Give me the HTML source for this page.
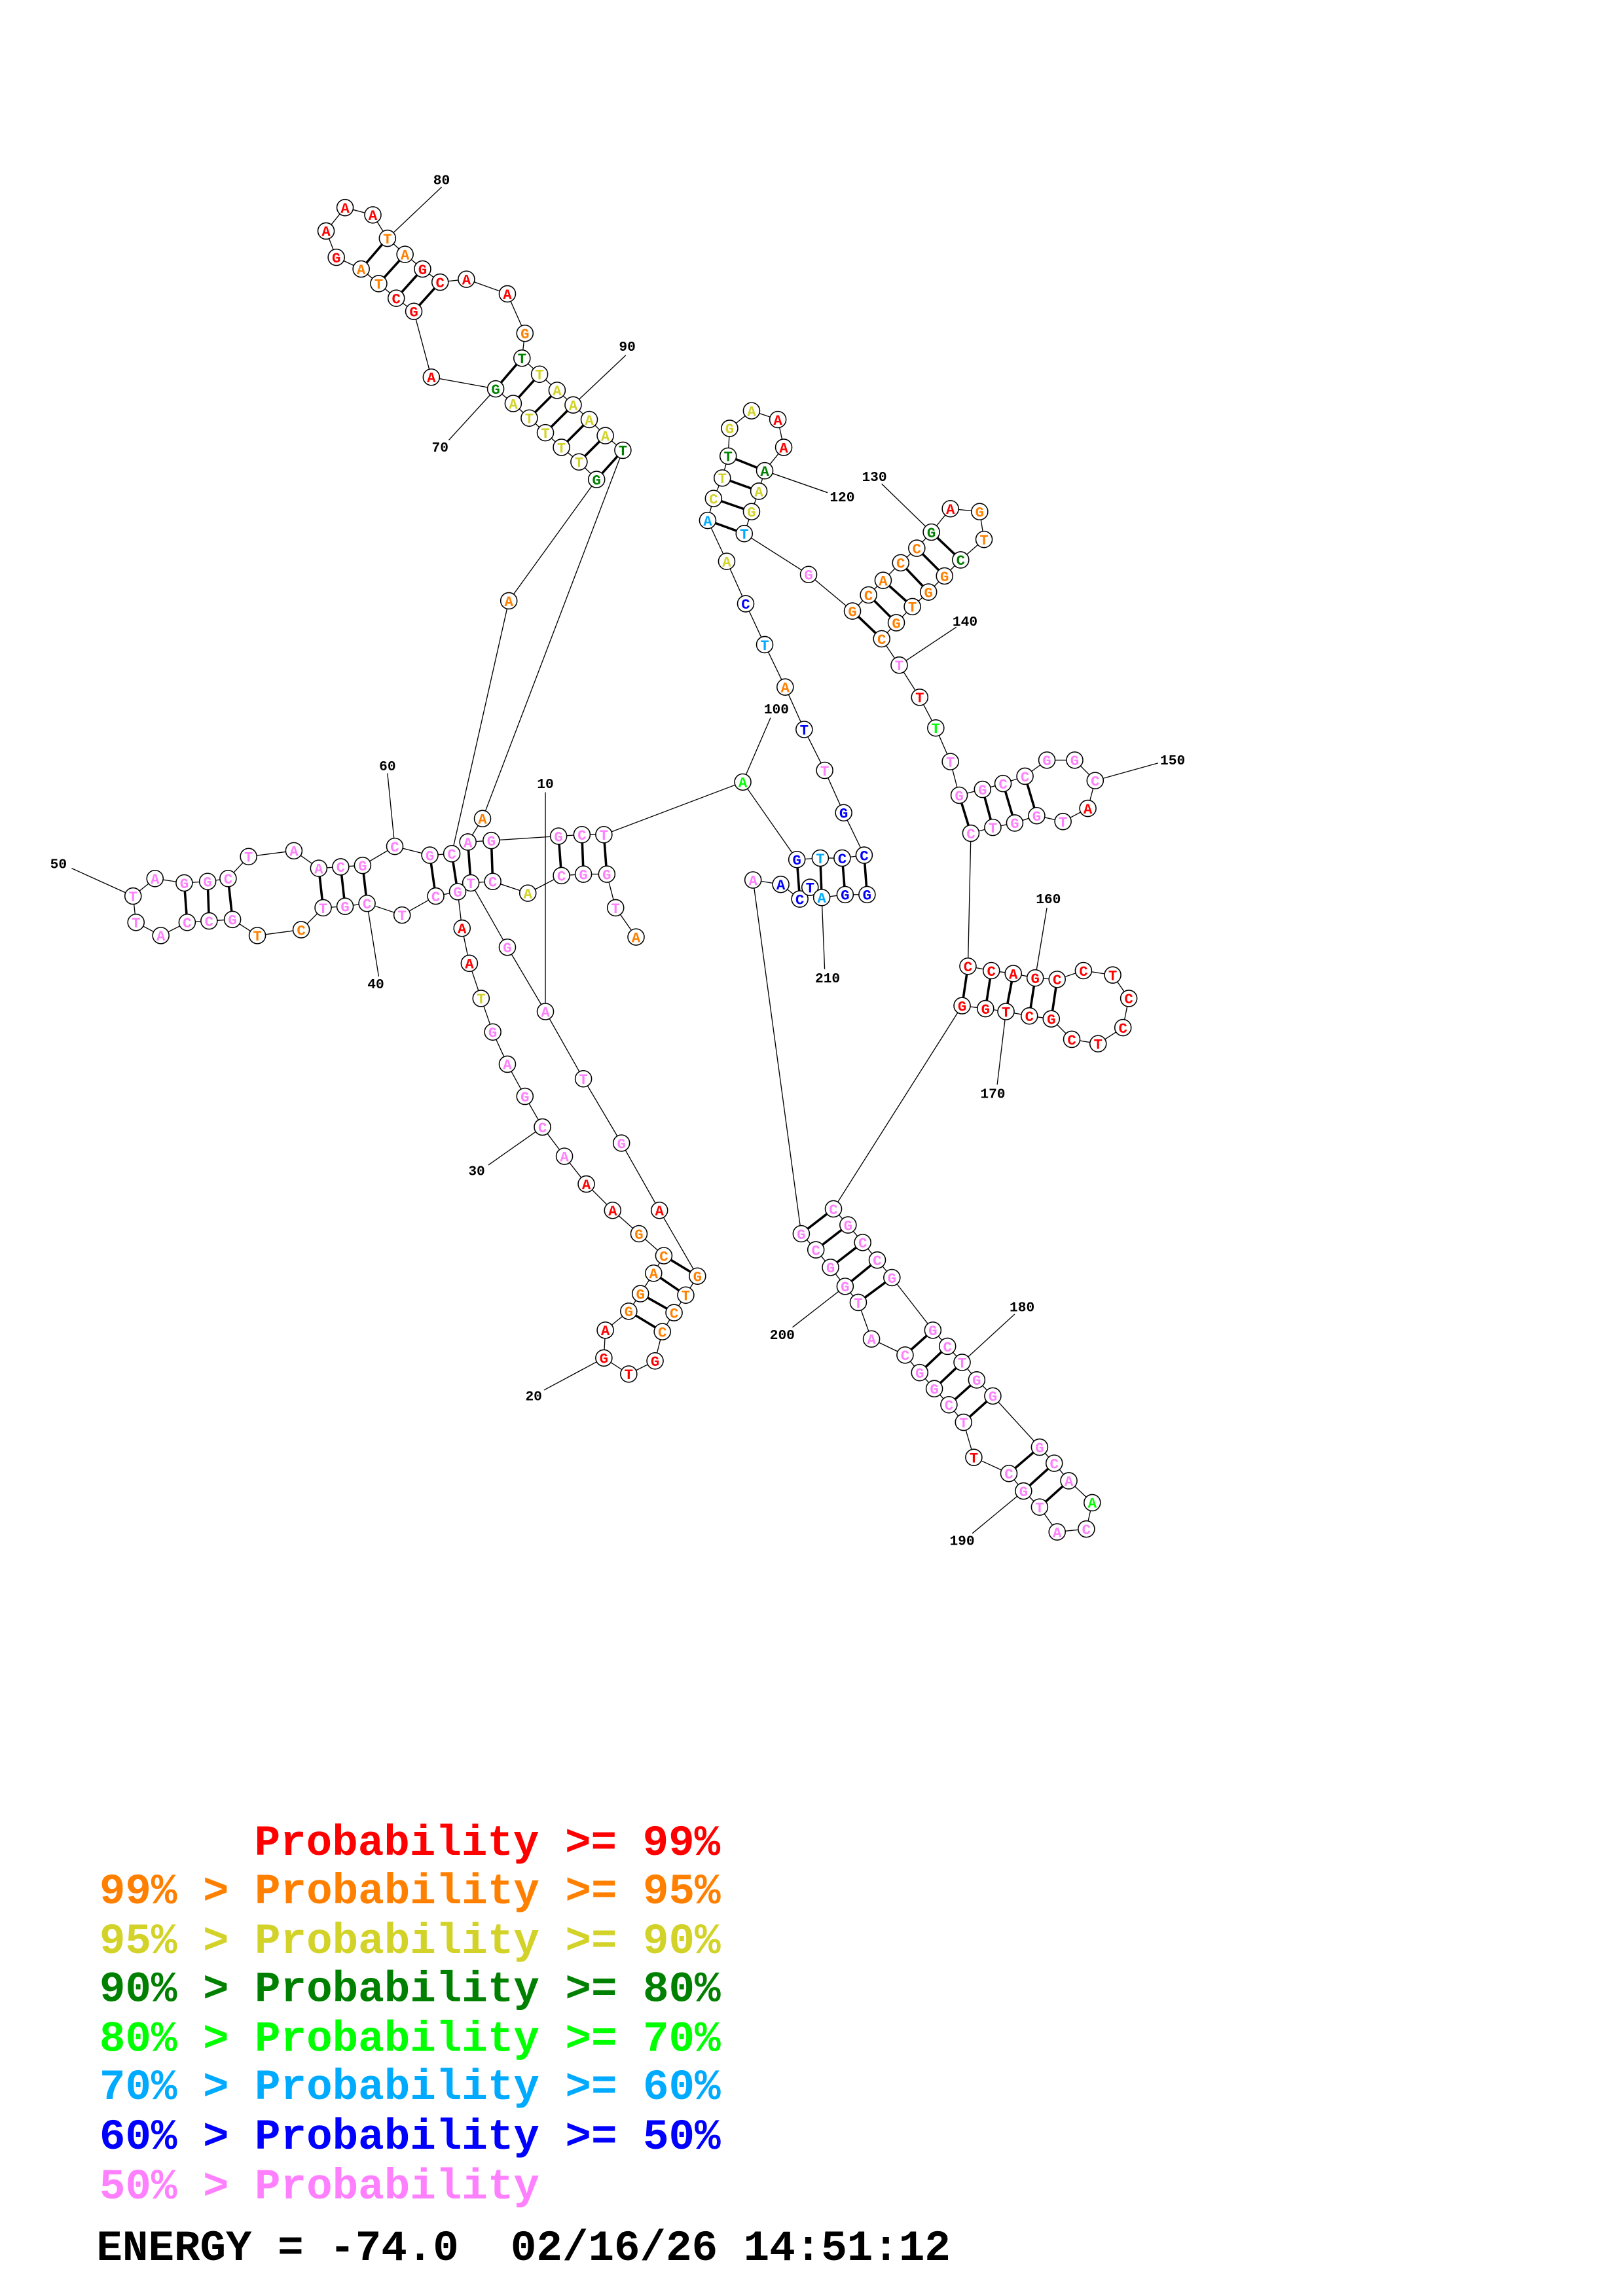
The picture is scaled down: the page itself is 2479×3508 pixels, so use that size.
<!DOCTYPE html>
<html><head><meta charset="utf-8"><style>
html,body{margin:0;padding:0;background:#fff}
svg{display:block}
.bb{fill:none;stroke:#000;stroke-width:.6}
.pr line{stroke:#000;stroke-width:1.6}
.lb line{stroke:#000;stroke-width:.6}
.cc circle{fill:#fff;stroke:#000;stroke-width:.7}
.t text{font-family:"Liberation Mono",monospace;font-weight:bold;font-size:10px;text-anchor:middle}
.num{font-family:"Liberation Mono",monospace;font-weight:bold;font-size:9.5px;text-anchor:middle;fill:#000}
.r{fill:#ff0000}.o{fill:#ff8000}.y{fill:#d2d228}.d{fill:#008000}.g{fill:#00ff00}.l{fill:#00aaff}.b{fill:#0000ff}.p{fill:#ff80ff}
.leg{font-family:"Liberation Mono",monospace;font-weight:bold;font-size:29.5px;white-space:pre}
</style></head><body>
<svg width="2479" height="3508" viewBox="0 0 1110 1570.7" xmlns="http://www.w3.org/2000/svg">
<rect width="1110" height="1571" fill="#fff"/>
<polyline class="bb" points="435,641 421,621 415,598 399,598 384,599 361,611 337,603 322,604 347,648 373,692 399,738 425,782 451,828 477,873 469,886 461,898 453,911 448,931 430,940 413,929 414,910 430,897 438,885 447,871 454,859 437,844 419,828 401,810 386,791 371,771 359,750 347,728 337,706 329,683 321,659 316,635 313,610 298,613 275,626 251,618 236,620 221,621 206,636 176,640 159,629 143,630 128,631 110,640 93,631 91,613 106,601 126,604 142,603 156,601 170,586 201,582 218,594 233,593 248,592 270,579 294,585 309,584 348,411 408,328 396,316 384,306 373,296 362,286 351,276 339,266 295,258 283,213 271,204 259,194 247,184 230,176 223,158 236,142 255,147 265,163 277,174 289,184 301,193 319,191 347,201 359,228 357,245 369,256 381,267 392,277 403,287 414,298 426,308 330,560 320,576 336,575 382,572 398,571 413,571 508,535 545,588 561,587 576,587 591,585 577,556 564,527 550,499 537,470 523,441 510,413 497,384 484,356 488,341 494,327 498,312 499,293 514,281 532,287 536,306 523,322 519,336 514,350 509,365 553,393 583,418 594,407 604,397 616,385 627,375 637,364 650,348 670,350 673,369 657,383 646,394 635,405 624,415 613,426 603,437 615,455 629,477 640,498 650,521 656,544 672,540 686,536 701,531 716,520 735,520 749,534 744,553 727,562 709,558 694,563 679,566 664,570 662,661 678,664 693,666 708,669 723,670 741,664 761,667 772,683 768,703 751,714 733,711 719,697 704,695 688,692 674,690 658,688 570,827 580,838 590,850 600,862 610,874 638,910 648,921 658,932 668,944 679,955 711,990 721,1001 731,1013 747,1028 743,1046 723,1048 711,1031 700,1020 690,1008 666,997 659,973 649,961 639,950 629,939 619,927 596,916 587,891 578,880 568,867 558,855 548,844 515,602 534,605 547,615 554,607 562,614 578,612 593,612"/>
<g class="lb">
<line x1="302" y1="128" x2="265" y2="163"/><line x1="428" y1="243" x2="392" y2="277"/><line x1="307" y1="301" x2="339" y2="266"/>
<line x1="265" y1="529" x2="270" y2="579"/><line x1="259" y1="668" x2="251" y2="618"/><line x1="49" y1="594" x2="91" y2="613"/>
<line x1="373" y1="542" x2="373" y2="692"/><line x1="334" y1="797" x2="371" y2="771"/><line x1="372" y1="951" x2="413" y2="929"/>
<line x1="566" y1="337" x2="523" y2="322"/><line x1="603" y1="331" x2="637" y2="364"/><line x1="654" y1="429" x2="615" y2="455"/>
<line x1="527" y1="491" x2="508" y2="535"/><line x1="564" y1="663" x2="562" y2="614"/><line x1="792" y1="522" x2="749" y2="534"/>
<line x1="716" y1="621" x2="708" y2="669"/><line x1="682" y1="742" x2="688" y2="692"/><line x1="694" y1="899" x2="658" y2="932"/>
<line x1="665" y1="1049" x2="700" y2="1020"/><line x1="542" y1="908" x2="578" y2="880"/>
</g>
<g class="pr">
<line x1="247" y1="184" x2="265" y2="163"/><line x1="259" y1="194" x2="277" y2="174"/><line x1="271" y1="204" x2="289" y2="184"/><line x1="283" y1="213" x2="301" y2="193"/>
<line x1="339" y1="266" x2="357" y2="245"/><line x1="351" y1="276" x2="369" y2="256"/><line x1="362" y1="286" x2="381" y2="267"/><line x1="373" y1="296" x2="392" y2="277"/><line x1="384" y1="306" x2="403" y2="287"/><line x1="396" y1="316" x2="414" y2="298"/><line x1="408" y1="328" x2="426" y2="308"/>
<line x1="320" y1="576" x2="322" y2="604"/><line x1="336" y1="575" x2="337" y2="603"/><line x1="382" y1="572" x2="384" y2="599"/><line x1="398" y1="571" x2="399" y2="598"/><line x1="413" y1="571" x2="415" y2="598"/>
<line x1="309" y1="584" x2="313" y2="610"/><line x1="294" y1="585" x2="298" y2="613"/>
<line x1="248" y1="592" x2="251" y2="618"/><line x1="233" y1="593" x2="236" y2="620"/><line x1="218" y1="594" x2="221" y2="621"/>
<line x1="156" y1="601" x2="159" y2="629"/><line x1="142" y1="603" x2="143" y2="630"/><line x1="126" y1="604" x2="128" y2="631"/>
<line x1="454" y1="859" x2="477" y2="873"/><line x1="447" y1="871" x2="469" y2="886"/><line x1="438" y1="885" x2="461" y2="898"/><line x1="430" y1="897" x2="453" y2="911"/>
<line x1="498" y1="312" x2="523" y2="322"/><line x1="494" y1="327" x2="519" y2="336"/><line x1="488" y1="341" x2="514" y2="350"/><line x1="484" y1="356" x2="509" y2="365"/>
<line x1="583" y1="418" x2="603" y2="437"/><line x1="594" y1="407" x2="613" y2="426"/><line x1="604" y1="397" x2="624" y2="415"/><line x1="616" y1="385" x2="635" y2="405"/><line x1="627" y1="375" x2="646" y2="394"/><line x1="637" y1="364" x2="657" y2="383"/>
<line x1="545" y1="588" x2="547" y2="615"/><line x1="561" y1="587" x2="562" y2="614"/><line x1="576" y1="587" x2="578" y2="612"/><line x1="591" y1="585" x2="593" y2="612"/>
<line x1="656" y1="544" x2="664" y2="570"/><line x1="672" y1="540" x2="679" y2="566"/><line x1="686" y1="536" x2="694" y2="563"/><line x1="701" y1="531" x2="709" y2="558"/>
<line x1="662" y1="661" x2="658" y2="688"/><line x1="678" y1="664" x2="674" y2="690"/><line x1="693" y1="666" x2="688" y2="692"/><line x1="708" y1="669" x2="704" y2="695"/><line x1="723" y1="670" x2="719" y2="697"/>
<line x1="570" y1="827" x2="548" y2="844"/><line x1="580" y1="838" x2="558" y2="855"/><line x1="590" y1="850" x2="568" y2="867"/><line x1="600" y1="862" x2="578" y2="880"/><line x1="610" y1="874" x2="587" y2="891"/>
<line x1="638" y1="910" x2="619" y2="927"/><line x1="648" y1="921" x2="629" y2="939"/><line x1="658" y1="932" x2="639" y2="950"/><line x1="668" y1="944" x2="649" y2="961"/><line x1="679" y1="955" x2="659" y2="973"/>
<line x1="711" y1="990" x2="690" y2="1008"/><line x1="721" y1="1001" x2="700" y2="1020"/><line x1="731" y1="1013" x2="711" y2="1031"/>
</g>
<g class="cc">
<circle cx="435" cy="641" r="5.6"/><circle cx="421" cy="621" r="5.6"/><circle cx="415" cy="598" r="5.6"/><circle cx="399" cy="598" r="5.6"/><circle cx="384" cy="599" r="5.6"/><circle cx="361" cy="611" r="5.6"/><circle cx="337" cy="603" r="5.6"/><circle cx="322" cy="604" r="5.6"/><circle cx="347" cy="648" r="5.6"/><circle cx="373" cy="692" r="5.6"/><circle cx="399" cy="738" r="5.6"/><circle cx="425" cy="782" r="5.6"/><circle cx="451" cy="828" r="5.6"/><circle cx="477" cy="873" r="5.6"/><circle cx="469" cy="886" r="5.6"/><circle cx="461" cy="898" r="5.6"/><circle cx="453" cy="911" r="5.6"/><circle cx="448" cy="931" r="5.6"/><circle cx="430" cy="940" r="5.6"/><circle cx="413" cy="929" r="5.6"/><circle cx="414" cy="910" r="5.6"/><circle cx="430" cy="897" r="5.6"/><circle cx="438" cy="885" r="5.6"/><circle cx="447" cy="871" r="5.6"/><circle cx="454" cy="859" r="5.6"/><circle cx="437" cy="844" r="5.6"/><circle cx="419" cy="828" r="5.6"/><circle cx="401" cy="810" r="5.6"/><circle cx="386" cy="791" r="5.6"/><circle cx="371" cy="771" r="5.6"/><circle cx="359" cy="750" r="5.6"/><circle cx="347" cy="728" r="5.6"/><circle cx="337" cy="706" r="5.6"/><circle cx="329" cy="683" r="5.6"/><circle cx="321" cy="659" r="5.6"/><circle cx="316" cy="635" r="5.6"/><circle cx="313" cy="610" r="5.6"/><circle cx="298" cy="613" r="5.6"/><circle cx="275" cy="626" r="5.6"/><circle cx="251" cy="618" r="5.6"/><circle cx="236" cy="620" r="5.6"/><circle cx="221" cy="621" r="5.6"/><circle cx="206" cy="636" r="5.6"/><circle cx="176" cy="640" r="5.6"/><circle cx="159" cy="629" r="5.6"/><circle cx="143" cy="630" r="5.6"/><circle cx="128" cy="631" r="5.6"/><circle cx="110" cy="640" r="5.6"/><circle cx="93" cy="631" r="5.6"/><circle cx="91" cy="613" r="5.6"/><circle cx="106" cy="601" r="5.6"/><circle cx="126" cy="604" r="5.6"/><circle cx="142" cy="603" r="5.6"/><circle cx="156" cy="601" r="5.6"/><circle cx="170" cy="586" r="5.6"/><circle cx="201" cy="582" r="5.6"/><circle cx="218" cy="594" r="5.6"/><circle cx="233" cy="593" r="5.6"/><circle cx="248" cy="592" r="5.6"/><circle cx="270" cy="579" r="5.6"/><circle cx="294" cy="585" r="5.6"/><circle cx="309" cy="584" r="5.6"/><circle cx="348" cy="411" r="5.6"/><circle cx="408" cy="328" r="5.6"/><circle cx="396" cy="316" r="5.6"/><circle cx="384" cy="306" r="5.6"/><circle cx="373" cy="296" r="5.6"/><circle cx="362" cy="286" r="5.6"/><circle cx="351" cy="276" r="5.6"/><circle cx="339" cy="266" r="5.6"/><circle cx="295" cy="258" r="5.6"/><circle cx="283" cy="213" r="5.6"/><circle cx="271" cy="204" r="5.6"/><circle cx="259" cy="194" r="5.6"/><circle cx="247" cy="184" r="5.6"/><circle cx="230" cy="176" r="5.6"/><circle cx="223" cy="158" r="5.6"/><circle cx="236" cy="142" r="5.6"/><circle cx="255" cy="147" r="5.6"/><circle cx="265" cy="163" r="5.6"/><circle cx="277" cy="174" r="5.6"/><circle cx="289" cy="184" r="5.6"/><circle cx="301" cy="193" r="5.6"/><circle cx="319" cy="191" r="5.6"/><circle cx="347" cy="201" r="5.6"/><circle cx="359" cy="228" r="5.6"/><circle cx="357" cy="245" r="5.6"/><circle cx="369" cy="256" r="5.6"/><circle cx="381" cy="267" r="5.6"/><circle cx="392" cy="277" r="5.6"/><circle cx="403" cy="287" r="5.6"/><circle cx="414" cy="298" r="5.6"/><circle cx="426" cy="308" r="5.6"/><circle cx="330" cy="560" r="5.6"/><circle cx="320" cy="576" r="5.6"/><circle cx="336" cy="575" r="5.6"/><circle cx="382" cy="572" r="5.6"/><circle cx="398" cy="571" r="5.6"/><circle cx="413" cy="571" r="5.6"/><circle cx="508" cy="535" r="5.6"/><circle cx="545" cy="588" r="5.6"/><circle cx="561" cy="587" r="5.6"/><circle cx="576" cy="587" r="5.6"/><circle cx="591" cy="585" r="5.6"/><circle cx="577" cy="556" r="5.6"/><circle cx="564" cy="527" r="5.6"/><circle cx="550" cy="499" r="5.6"/><circle cx="537" cy="470" r="5.6"/><circle cx="523" cy="441" r="5.6"/><circle cx="510" cy="413" r="5.6"/><circle cx="497" cy="384" r="5.6"/><circle cx="484" cy="356" r="5.6"/><circle cx="488" cy="341" r="5.6"/><circle cx="494" cy="327" r="5.6"/><circle cx="498" cy="312" r="5.6"/><circle cx="499" cy="293" r="5.6"/><circle cx="514" cy="281" r="5.6"/><circle cx="532" cy="287" r="5.6"/><circle cx="536" cy="306" r="5.6"/><circle cx="523" cy="322" r="5.6"/><circle cx="519" cy="336" r="5.6"/><circle cx="514" cy="350" r="5.6"/><circle cx="509" cy="365" r="5.6"/><circle cx="553" cy="393" r="5.6"/><circle cx="583" cy="418" r="5.6"/><circle cx="594" cy="407" r="5.6"/><circle cx="604" cy="397" r="5.6"/><circle cx="616" cy="385" r="5.6"/><circle cx="627" cy="375" r="5.6"/><circle cx="637" cy="364" r="5.6"/><circle cx="650" cy="348" r="5.6"/><circle cx="670" cy="350" r="5.6"/><circle cx="673" cy="369" r="5.6"/><circle cx="657" cy="383" r="5.6"/><circle cx="646" cy="394" r="5.6"/><circle cx="635" cy="405" r="5.6"/><circle cx="624" cy="415" r="5.6"/><circle cx="613" cy="426" r="5.6"/><circle cx="603" cy="437" r="5.6"/><circle cx="615" cy="455" r="5.6"/><circle cx="629" cy="477" r="5.6"/><circle cx="640" cy="498" r="5.6"/><circle cx="650" cy="521" r="5.6"/><circle cx="656" cy="544" r="5.6"/><circle cx="672" cy="540" r="5.6"/><circle cx="686" cy="536" r="5.6"/><circle cx="701" cy="531" r="5.6"/><circle cx="716" cy="520" r="5.6"/><circle cx="735" cy="520" r="5.6"/><circle cx="749" cy="534" r="5.6"/><circle cx="744" cy="553" r="5.6"/><circle cx="727" cy="562" r="5.6"/><circle cx="709" cy="558" r="5.6"/><circle cx="694" cy="563" r="5.6"/><circle cx="679" cy="566" r="5.6"/><circle cx="664" cy="570" r="5.6"/><circle cx="662" cy="661" r="5.6"/><circle cx="678" cy="664" r="5.6"/><circle cx="693" cy="666" r="5.6"/><circle cx="708" cy="669" r="5.6"/><circle cx="723" cy="670" r="5.6"/><circle cx="741" cy="664" r="5.6"/><circle cx="761" cy="667" r="5.6"/><circle cx="772" cy="683" r="5.6"/><circle cx="768" cy="703" r="5.6"/><circle cx="751" cy="714" r="5.6"/><circle cx="733" cy="711" r="5.6"/><circle cx="719" cy="697" r="5.6"/><circle cx="704" cy="695" r="5.6"/><circle cx="688" cy="692" r="5.6"/><circle cx="674" cy="690" r="5.6"/><circle cx="658" cy="688" r="5.6"/><circle cx="570" cy="827" r="5.6"/><circle cx="580" cy="838" r="5.6"/><circle cx="590" cy="850" r="5.6"/><circle cx="600" cy="862" r="5.6"/><circle cx="610" cy="874" r="5.6"/><circle cx="638" cy="910" r="5.6"/><circle cx="648" cy="921" r="5.6"/><circle cx="658" cy="932" r="5.6"/><circle cx="668" cy="944" r="5.6"/><circle cx="679" cy="955" r="5.6"/><circle cx="711" cy="990" r="5.6"/><circle cx="721" cy="1001" r="5.6"/><circle cx="731" cy="1013" r="5.6"/><circle cx="747" cy="1028" r="5.6"/><circle cx="743" cy="1046" r="5.6"/><circle cx="723" cy="1048" r="5.6"/><circle cx="711" cy="1031" r="5.6"/><circle cx="700" cy="1020" r="5.6"/><circle cx="690" cy="1008" r="5.6"/><circle cx="666" cy="997" r="5.6"/><circle cx="659" cy="973" r="5.6"/><circle cx="649" cy="961" r="5.6"/><circle cx="639" cy="950" r="5.6"/><circle cx="629" cy="939" r="5.6"/><circle cx="619" cy="927" r="5.6"/><circle cx="596" cy="916" r="5.6"/><circle cx="587" cy="891" r="5.6"/><circle cx="578" cy="880" r="5.6"/><circle cx="568" cy="867" r="5.6"/><circle cx="558" cy="855" r="5.6"/><circle cx="548" cy="844" r="5.6"/><circle cx="515" cy="602" r="5.6"/><circle cx="534" cy="605" r="5.6"/><circle cx="547" cy="615" r="5.6"/><circle cx="554" cy="607" r="5.6"/><circle cx="562" cy="614" r="5.6"/><circle cx="578" cy="612" r="5.6"/><circle cx="593" cy="612" r="5.6"/>
</g>
<g class="t">
<text x="435" y="644.5" class="o">A</text><text x="421" y="624.5" class="p">T</text><text x="415" y="601.5" class="p">G</text><text x="399" y="601.5" class="p">G</text><text x="384" y="602.5" class="p">C</text><text x="361" y="614.5" class="y">A</text><text x="337" y="606.5" class="p">C</text><text x="322" y="607.5" class="p">T</text><text x="347" y="651.5" class="p">G</text><text x="373" y="695.5" class="p">A</text><text x="399" y="741.5" class="p">T</text><text x="425" y="785.5" class="p">G</text><text x="451" y="831.5" class="r">A</text><text x="477" y="876.5" class="o">G</text><text x="469" y="889.5" class="o">T</text><text x="461" y="901.5" class="o">C</text><text x="453" y="914.5" class="o">C</text><text x="448" y="934.5" class="r">G</text><text x="430" y="943.5" class="r">T</text><text x="413" y="932.5" class="r">G</text><text x="414" y="913.5" class="r">A</text><text x="430" y="900.5" class="o">G</text><text x="438" y="888.5" class="o">G</text><text x="447" y="874.5" class="o">A</text><text x="454" y="862.5" class="o">C</text><text x="437" y="847.5" class="o">G</text><text x="419" y="831.5" class="r">A</text><text x="401" y="813.5" class="r">A</text><text x="386" y="794.5" class="p">A</text><text x="371" y="774.5" class="p">C</text><text x="359" y="753.5" class="p">G</text><text x="347" y="731.5" class="p">A</text><text x="337" y="709.5" class="p">G</text><text x="329" y="686.5" class="y">T</text><text x="321" y="662.5" class="r">A</text><text x="316" y="638.5" class="r">A</text><text x="313" y="613.5" class="p">G</text><text x="298" y="616.5" class="p">C</text><text x="275" y="629.5" class="p">T</text><text x="251" y="621.5" class="p">C</text><text x="236" y="623.5" class="p">G</text><text x="221" y="624.5" class="p">T</text><text x="206" y="639.5" class="o">C</text><text x="176" y="643.5" class="o">T</text><text x="159" y="632.5" class="p">G</text><text x="143" y="633.5" class="p">C</text><text x="128" y="634.5" class="p">C</text><text x="110" y="643.5" class="p">A</text><text x="93" y="634.5" class="p">T</text><text x="91" y="616.5" class="p">T</text><text x="106" y="604.5" class="p">A</text><text x="126" y="607.5" class="p">G</text><text x="142" y="606.5" class="p">G</text><text x="156" y="604.5" class="p">C</text><text x="170" y="589.5" class="p">T</text><text x="201" y="585.5" class="p">A</text><text x="218" y="597.5" class="p">A</text><text x="233" y="596.5" class="p">C</text><text x="248" y="595.5" class="p">G</text><text x="270" y="582.5" class="p">C</text><text x="294" y="588.5" class="p">G</text><text x="309" y="587.5" class="p">C</text><text x="348" y="414.5" class="o">A</text><text x="408" y="331.5" class="d">G</text><text x="396" y="319.5" class="y">T</text><text x="384" y="309.5" class="y">T</text><text x="373" y="299.5" class="y">T</text><text x="362" y="289.5" class="y">T</text><text x="351" y="279.5" class="y">A</text><text x="339" y="269.5" class="d">G</text><text x="295" y="261.5" class="r">A</text><text x="283" y="216.5" class="r">G</text><text x="271" y="207.5" class="r">C</text><text x="259" y="197.5" class="o">T</text><text x="247" y="187.5" class="o">A</text><text x="230" y="179.5" class="r">G</text><text x="223" y="161.5" class="r">A</text><text x="236" y="145.5" class="r">A</text><text x="255" y="150.5" class="r">A</text><text x="265" y="166.5" class="o">T</text><text x="277" y="177.5" class="o">A</text><text x="289" y="187.5" class="r">G</text><text x="301" y="196.5" class="r">C</text><text x="319" y="194.5" class="r">A</text><text x="347" y="204.5" class="r">A</text><text x="359" y="231.5" class="o">G</text><text x="357" y="248.5" class="d">T</text><text x="369" y="259.5" class="y">T</text><text x="381" y="270.5" class="y">A</text><text x="392" y="280.5" class="y">A</text><text x="403" y="290.5" class="y">A</text><text x="414" y="301.5" class="y">A</text><text x="426" y="311.5" class="d">T</text><text x="330" y="563.5" class="o">A</text><text x="320" y="579.5" class="p">A</text><text x="336" y="578.5" class="p">G</text><text x="382" y="575.5" class="p">G</text><text x="398" y="574.5" class="p">C</text><text x="413" y="574.5" class="p">T</text><text x="508" y="538.5" class="g">A</text><text x="545" y="591.5" class="b">G</text><text x="561" y="590.5" class="l">T</text><text x="576" y="590.5" class="b">C</text><text x="591" y="588.5" class="b">C</text><text x="577" y="559.5" class="b">G</text><text x="564" y="530.5" class="p">T</text><text x="550" y="502.5" class="b">T</text><text x="537" y="473.5" class="o">A</text><text x="523" y="444.5" class="l">T</text><text x="510" y="416.5" class="b">C</text><text x="497" y="387.5" class="y">A</text><text x="484" y="359.5" class="l">A</text><text x="488" y="344.5" class="y">C</text><text x="494" y="330.5" class="y">T</text><text x="498" y="315.5" class="d">T</text><text x="499" y="296.5" class="y">G</text><text x="514" y="284.5" class="y">A</text><text x="532" y="290.5" class="r">A</text><text x="536" y="309.5" class="r">A</text><text x="523" y="325.5" class="d">A</text><text x="519" y="339.5" class="y">A</text><text x="514" y="353.5" class="y">G</text><text x="509" y="368.5" class="l">T</text><text x="553" y="396.5" class="p">G</text><text x="583" y="421.5" class="o">G</text><text x="594" y="410.5" class="o">C</text><text x="604" y="400.5" class="o">A</text><text x="616" y="388.5" class="o">C</text><text x="627" y="378.5" class="o">C</text><text x="637" y="367.5" class="d">G</text><text x="650" y="351.5" class="r">A</text><text x="670" y="353.5" class="o">G</text><text x="673" y="372.5" class="o">T</text><text x="657" y="386.5" class="d">C</text><text x="646" y="397.5" class="o">G</text><text x="635" y="408.5" class="o">G</text><text x="624" y="418.5" class="o">T</text><text x="613" y="429.5" class="o">G</text><text x="603" y="440.5" class="o">C</text><text x="615" y="458.5" class="p">T</text><text x="629" y="480.5" class="r">T</text><text x="640" y="501.5" class="g">T</text><text x="650" y="524.5" class="p">T</text><text x="656" y="547.5" class="p">G</text><text x="672" y="543.5" class="p">G</text><text x="686" y="539.5" class="p">C</text><text x="701" y="534.5" class="p">C</text><text x="716" y="523.5" class="p">G</text><text x="735" y="523.5" class="p">G</text><text x="749" y="537.5" class="p">C</text><text x="744" y="556.5" class="r">A</text><text x="727" y="565.5" class="p">T</text><text x="709" y="561.5" class="p">G</text><text x="694" y="566.5" class="p">G</text><text x="679" y="569.5" class="p">T</text><text x="664" y="573.5" class="p">C</text><text x="662" y="664.5" class="r">C</text><text x="678" y="667.5" class="r">C</text><text x="693" y="669.5" class="r">A</text><text x="708" y="672.5" class="r">G</text><text x="723" y="673.5" class="r">C</text><text x="741" y="667.5" class="r">C</text><text x="761" y="670.5" class="r">T</text><text x="772" y="686.5" class="r">C</text><text x="768" y="706.5" class="r">C</text><text x="751" y="717.5" class="r">T</text><text x="733" y="714.5" class="r">C</text><text x="719" y="700.5" class="r">G</text><text x="704" y="698.5" class="r">C</text><text x="688" y="695.5" class="r">T</text><text x="674" y="693.5" class="r">G</text><text x="658" y="691.5" class="r">G</text><text x="570" y="830.5" class="p">C</text><text x="580" y="841.5" class="p">G</text><text x="590" y="853.5" class="p">C</text><text x="600" y="865.5" class="p">C</text><text x="610" y="877.5" class="p">G</text><text x="638" y="913.5" class="p">G</text><text x="648" y="924.5" class="p">C</text><text x="658" y="935.5" class="p">T</text><text x="668" y="947.5" class="p">G</text><text x="679" y="958.5" class="p">G</text><text x="711" y="993.5" class="p">G</text><text x="721" y="1004.5" class="p">C</text><text x="731" y="1016.5" class="p">A</text><text x="747" y="1031.5" class="g">A</text><text x="743" y="1049.5" class="p">C</text><text x="723" y="1051.5" class="p">A</text><text x="711" y="1034.5" class="p">T</text><text x="700" y="1023.5" class="p">G</text><text x="690" y="1011.5" class="p">C</text><text x="666" y="1000.5" class="r">T</text><text x="659" y="976.5" class="p">T</text><text x="649" y="964.5" class="p">C</text><text x="639" y="953.5" class="p">G</text><text x="629" y="942.5" class="p">G</text><text x="619" y="930.5" class="p">C</text><text x="596" y="919.5" class="p">A</text><text x="587" y="894.5" class="p">T</text><text x="578" y="883.5" class="p">G</text><text x="568" y="870.5" class="p">G</text><text x="558" y="858.5" class="p">C</text><text x="548" y="847.5" class="p">G</text><text x="515" y="605.5" class="p">A</text><text x="534" y="608.5" class="b">A</text><text x="547" y="618.5" class="b">C</text><text x="554" y="610.5" class="b">T</text><text x="562" y="617.5" class="l">A</text><text x="578" y="615.5" class="b">G</text><text x="593" y="615.5" class="b">G</text>
</g>
<g>
<text class="num" x="302" y="126">80</text><text class="num" x="429" y="240">90</text><text class="num" x="301" y="309">70</text>
<text class="num" x="265" y="527">60</text><text class="num" x="257" y="676">40</text><text class="num" x="40" y="594">50</text>
<text class="num" x="373" y="539">10</text><text class="num" x="326" y="804">30</text><text class="num" x="365" y="958">20</text>
<text class="num" x="576" y="343">120</text><text class="num" x="598" y="329">130</text><text class="num" x="660" y="428">140</text>
<text class="num" x="531" y="488">100</text><text class="num" x="566" y="672">210</text><text class="num" x="802" y="523">150</text>
<text class="num" x="717" y="618">160</text><text class="num" x="679" y="751">170</text><text class="num" x="699" y="897">180</text>
<text class="num" x="658" y="1057">190</text><text class="num" x="535" y="916">200</text>
</g>
<g class="leg">
<text x="174" y="1269" class="r">Probability &gt;= 99%</text>
<text x="68" y="1302" class="o">99% &gt; Probability &gt;= 95%</text>
<text x="68" y="1336" class="y">95% &gt; Probability &gt;= 90%</text>
<text x="68" y="1369" class="d">90% &gt; Probability &gt;= 80%</text>
<text x="68" y="1403" class="g">80% &gt; Probability &gt;= 70%</text>
<text x="68" y="1436" class="l">70% &gt; Probability &gt;= 60%</text>
<text x="68" y="1470" class="b">60% &gt; Probability &gt;= 50%</text>
<text x="68" y="1504" class="p">50% &gt; Probability</text>
<text x="66" y="1546" fill="#000">ENERGY = -74.0 &#160;02/16/26 14:51:12</text>
</g>
</svg>
</body></html>
